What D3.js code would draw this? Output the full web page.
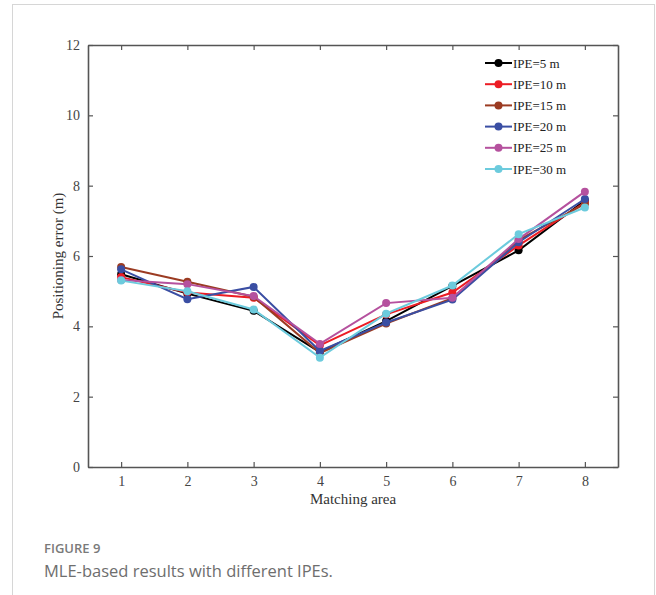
<!DOCTYPE html>
<html>
<head>
<meta charset="utf-8">
<script src="https://cdn.jsdelivr.net/npm/d3@7"></script>
<style>
  body { margin: 0; background: #fff; }
  svg { display: block; }
</style>
</head>
<body>
<div id="chart"></div>
<script>
// data
var areas = [1, 2, 3, 4, 5, 6, 7, 8];
var seriesNames = ['IPE=5 m', 'IPE=10 m', 'IPE=15 m', 'IPE=20 m', 'IPE=25 m', 'IPE=30 m'];
var ipe5  = [5.48, 4.93, 4.44, 3.27, 4.15, 5.15, 6.16, 7.58];
var ipe10 = [5.40, 4.96, 4.81, 3.46, 4.34, 4.96, 6.30, 7.52];
var ipe15 = [5.69, 5.27, 4.84, 3.24, 4.08, 4.80, 6.45, 7.48];
var ipe20 = [5.62, 4.77, 5.12, 3.30, 4.11, 4.76, 6.39, 7.62];
var ipe25 = [5.32, 5.20, 4.86, 3.50, 4.66, 4.81, 6.48, 7.83];
var ipe30 = [5.30, 5.00, 4.48, 3.11, 4.36, 5.16, 6.62, 7.38];
var yTicks = [0, 2, 4, 6, 8, 10, 12];

var colors = ['#000000', '#ec1c24', '#9b3b22', '#3a4ea3', '#b5519e', '#6ccbdd'];
var series = [ipe5, ipe10, ipe15, ipe20, ipe25, ipe30].map(function(vals, i) {
    return { name: seriesNames[i], color: colors[i], values: vals };
});

function draw() {
    var W = 656, H = 595;
    var svg = d3.select('#chart').append('svg')
        .attr('width', W)
        .attr('height', H);

    // card border
    svg.append('rect')
        .attr('x', 12.5).attr('y', 4.5)
        .attr('width', 642).attr('height', 600)
        .attr('fill', 'none')
        .attr('stroke', '#d6d6d6')
        .attr('stroke-width', 1);

    var pLeft = 88, pRight = 618, pTop = 45, pBottom = 467;

    var x = d3.scaleLinear().domain([0.5, 8.5]).range([pLeft, pRight]);
    var y = d3.scaleLinear().domain([0, 12]).range([pBottom, pTop]);

    var axisColor = '#555';
    var serif = 'Liberation Serif, Times New Roman, serif';

    // axes (box on, ticks inward)
    var gx = svg.append('g').attr('transform', 'translate(0,' + pBottom + ')')
        .call(d3.axisBottom(x).tickValues(areas).tickSize(-5).tickPadding(9).tickSizeOuter(0));
    var gxTop = svg.append('g').attr('transform', 'translate(0,' + pTop + ')')
        .call(d3.axisTop(x).tickValues(areas).tickSize(-5).tickFormat('').tickSizeOuter(0));
    var gy = svg.append('g').attr('transform', 'translate(' + pLeft + ',0)')
        .call(d3.axisLeft(y).tickValues(yTicks).tickSize(-5).tickPadding(8).tickSizeOuter(0));
    var gyRight = svg.append('g').attr('transform', 'translate(' + pRight + ',0)')
        .call(d3.axisRight(y).tickValues(yTicks).tickSize(-5).tickFormat('').tickSizeOuter(0));

    [gx, gxTop, gy, gyRight].forEach(function(g) {
        g.select('.domain').attr('stroke', axisColor).attr('stroke-width', 1.6);
        g.selectAll('.tick line').attr('stroke', axisColor).attr('stroke-width', 1.2);
        g.selectAll('.tick text')
            .attr('fill', '#444')
            .style('font-family', serif)
            .style('font-size', '14px');
    });

    // axis titles
    svg.append('text')
        .attr('x', (pLeft + pRight) / 2)
        .attr('y', 504)
        .attr('text-anchor', 'middle')
        .attr('fill', '#333')
        .style('font-family', serif)
        .style('font-size', '15px')
        .text('Matching area');

    svg.append('text')
        .attr('transform', 'translate(63,' + ((pTop + pBottom) / 2) + ') rotate(-90)')
        .attr('text-anchor', 'middle')
        .attr('fill', '#333')
        .style('font-family', serif)
        .style('font-size', '15px')
        .text('Positioning error (m)');

    // lines and markers
    var line = d3.line()
        .x(function(d, i) { return x(areas[i]); })
        .y(function(d) { return y(d); });

    var plot = svg.append('g');
    series.forEach(function(s) {
        plot.append('path')
            .datum(s.values)
            .attr('d', line)
            .attr('fill', 'none')
            .attr('stroke', s.color)
            .attr('stroke-width', 2);
        plot.selectAll(null)
            .data(s.values)
            .enter().append('circle')
            .attr('cx', function(d, i) { return x(areas[i]); })
            .attr('cy', function(d) { return y(d); })
            .attr('r', 4)
            .attr('fill', s.color);
    });

    // legend
    var legend = svg.append('g').attr('transform', 'translate(485,63)');
    var item = legend.selectAll('g')
        .data(series)
        .enter().append('g')
        .attr('transform', function(d, i) { return 'translate(0,' + (i * 21.2) + ')'; });
    item.append('line')
        .attr('x1', 0).attr('x2', 27)
        .attr('stroke', function(d) { return d.color; })
        .attr('stroke-width', 2);
    item.append('circle')
        .attr('cx', 13.5).attr('r', 4)
        .attr('fill', function(d) { return d.color; });
    item.append('text')
        .attr('x', 28).attr('dy', '0.35em')
        .attr('fill', '#222')
        .style('font-family', serif)
        .style('font-size', '13px')
        .text(function(d) { return d.name; });

    // caption
    svg.append('text')
        .attr('x', 44).attr('y', 553)
        .attr('fill', '#7a7a7a')
        .style('font-family', 'Open Sans, sans-serif')
        .style('font-size', '13px')
        .style('font-weight', 600)
        .text('FIGURE 9');

    svg.append('text')
        .attr('x', 44).attr('y', 577)
        .attr('fill', '#6e6e6e')
        .style('font-family', 'Open Sans, sans-serif')
        .style('font-size', '16.5px')
        .text('MLE-based results with different IPEs.');
}

draw();
</script>
</body>
</html>
